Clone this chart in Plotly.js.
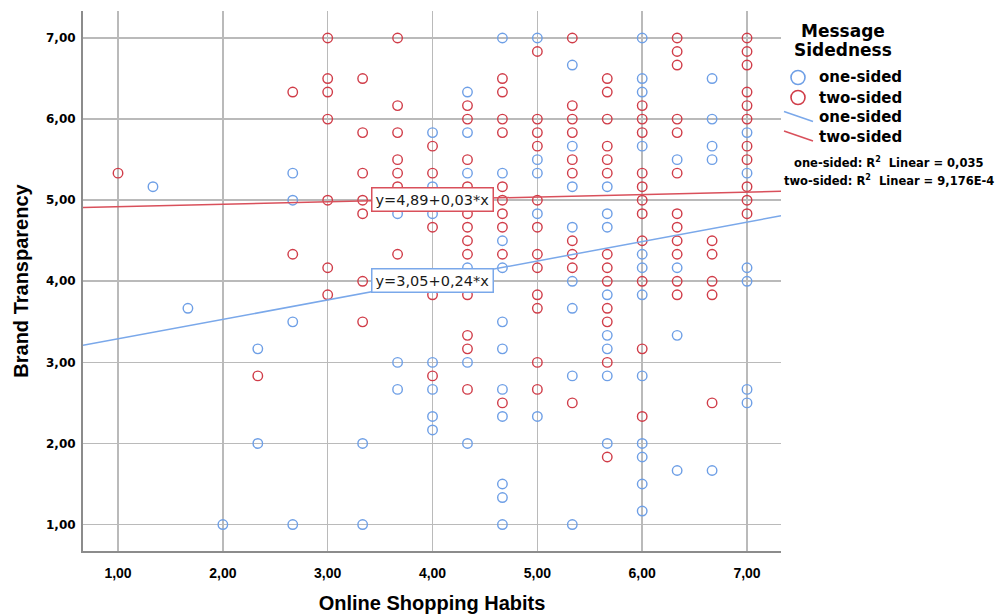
<!DOCTYPE html>
<html>
<head>
<meta charset="utf-8">
<script src="https://cdn.plot.ly/plotly-3.0.1.min.js"></script>
<style>
  html, body { margin: 0; padding: 0; background: #ffffff; }
  #chart { width: 1002px; height: 616px; }
</style>
</head>
<body>
<div id="chart"></div>
<script>
// Online Shopping Habits (x) vs Brand Transparency (y), grouped by message sidedness.
// Scale values are means of several items, so they fall on steps of 1/3 (x) and 1/6 (y).
const T = 1 / 3, S = 1 / 6;

// one-sided group: x column -> y values
const oneSidedX = [
  1+T,
  1+2*T,
  2,
  2+T, 2+T,
  2+2*T, 2+2*T, 2+2*T, 2+2*T,
  3+T, 3+T,
  3+2*T, 3+2*T, 3+2*T,
  4, 4, 4, 4, 4, 4, 4,
  4+T, 4+T, 4+T, 4+T, 4+T, 4+T,
  4+2*T, 4+2*T, 4+2*T, 4+2*T, 4+2*T, 4+2*T, 4+2*T, 4+2*T, 4+2*T, 4+2*T, 4+2*T,
  5, 5, 5, 5, 5,
  5+T, 5+T, 5+T, 5+T, 5+T, 5+T, 5+T, 5+T,
  5+2*T, 5+2*T, 5+2*T, 5+2*T, 5+2*T, 5+2*T, 5+2*T, 5+2*T,
  6, 6, 6, 6, 6, 6, 6, 6, 6, 6, 6, 6,
  6+T, 6+T, 6+T, 6+T,
  6+2*T, 6+2*T, 6+2*T, 6+2*T, 6+2*T,
  7, 7, 7, 7, 7, 7
];
const oneSidedY = [
  5+S,
  3+4*S,
  1,
  3+S, 2,
  5+2*S, 5, 3.5, 1,
  2, 1,
  4+5*S, 3, 2+4*S,
  5+5*S, 5+S, 4+5*S, 3, 2+4*S, 2+2*S, 2+S,
  6+2*S, 5+5*S, 5+2*S, 4+S, 3, 2,
  7, 5+2*S, 4.5, 4+S, 3.5, 3+S, 2+4*S, 2+2*S, 1.5, 1+2*S, 1,
  7, 5.5, 5+2*S, 4+5*S, 2+2*S,
  6+4*S, 5+4*S, 5+S, 4+4*S, 4, 3+4*S, 2+5*S, 1,
  5+S, 4+5*S, 4+4*S, 3+5*S, 3+2*S, 3+S, 2+5*S, 2,
  7, 6.5, 6+2*S, 5+4*S, 4+2*S, 4+S, 3+5*S, 2+5*S, 2, 1+5*S, 1.5, 1+S,
  5.5, 4+S, 3+2*S, 1+4*S,
  6.5, 6, 5+4*S, 5.5, 1+4*S,
  5+5*S, 5+2*S, 4+S, 4, 2+4*S, 2.5
];

// two-sided group: x column -> y values
const twoSidedX = [
  1,
  2+T,
  2+2*T, 2+2*T,
  3, 3, 3, 3, 3, 3, 3,
  3+T, 3+T, 3+T, 3+T, 3+T, 3+T, 3+T,
  3+2*T, 3+2*T, 3+2*T, 3+2*T, 3+2*T, 3+2*T, 3+2*T,
  4, 4, 4, 4, 4,
  4+T, 4+T, 4+T, 4+T, 4+T, 4+T, 4+T, 4+T, 4+T, 4+T, 4+T, 4+T,
  4+2*T, 4+2*T, 4+2*T, 4+2*T, 4+2*T, 4+2*T, 4+2*T, 4+2*T, 4+2*T, 4+2*T,
  5, 5, 5, 5, 5, 5, 5, 5, 5, 5, 5, 5,
  5+T, 5+T, 5+T, 5+T, 5+T, 5+T, 5+T, 5+T, 5+T, 5+T,
  5+2*T, 5+2*T, 5+2*T, 5+2*T, 5+2*T, 5+2*T, 5+2*T, 5+2*T, 5+2*T, 5+2*T, 5+2*T, 5+2*T, 5+2*T,
  6, 6, 6, 6, 6, 6, 6, 6, 6, 6, 6,
  6+T, 6+T, 6+T, 6+T, 6+T, 6+T, 6+T, 6+T, 6+T, 6+T, 6+T, 6+T,
  6+2*T, 6+2*T, 6+2*T, 6+2*T, 6+2*T,
  7, 7, 7, 7, 7, 7, 7, 7, 7, 7, 7
];
const twoSidedY = [
  5+2*S,
  2+5*S,
  6+2*S, 4+2*S,
  7, 6.5, 6+2*S, 6, 5, 4+S, 3+5*S,
  6.5, 5+5*S, 5+2*S, 5, 4+5*S, 4, 3.5,
  7, 6+S, 5+5*S, 5.5, 5+2*S, 5+S, 4+2*S,
  5+4*S, 5+2*S, 4+4*S, 3+5*S, 2+5*S,
  6+S, 6, 5.5, 5+S, 4+5*S, 4+4*S, 4.5, 4+2*S, 3+5*S, 3+2*S, 3+S, 2+4*S,
  6.5, 6+2*S, 6, 5+5*S, 5+S, 5, 4+5*S, 4+4*S, 4+2*S, 2.5,
  6+5*S, 6, 5+5*S, 5+4*S, 5, 4+4*S, 4+2*S, 4+S, 3+5*S, 3+4*S, 3, 2+4*S,
  7, 6+S, 6, 5+5*S, 5.5, 5+2*S, 4.5, 4+2*S, 4+S, 2.5,
  6.5, 6+2*S, 6, 5+4*S, 5.5, 5+2*S, 4+2*S, 4+S, 4, 3+4*S, 3.5, 3, 1+5*S,
  6+S, 6, 5+5*S, 5+2*S, 5+S, 5, 4+5*S, 4.5, 4, 3+S, 2+2*S,
  7, 6+5*S, 6+4*S, 6, 5+5*S, 5+2*S, 4+5*S, 4+4*S, 4.5, 4+2*S, 4, 3+5*S,
  4.5, 4+2*S, 4, 3+5*S, 2.5,
  7, 6+5*S, 6+4*S, 6+2*S, 6+S, 6, 5+4*S, 5.5, 5+S, 5, 4+5*S
];

// Linear fit coefficients per group (intercept, slope) and R² values
const fitOne = { a: 3.05, b: 0.24, label: 'y=3,05+0,24*x', r2: '0,035' };
const fitTwo = { a: 4.89, b: 0.03, label: 'y=4,89+0,03*x', r2: '9,176E-4' };
const groupNames = ['one-sided', 'two-sided'];

const xRange = [0.666, 7.324];
const yRange = [0.674, 7.333];
const tickValues = [1, 2, 3, 4, 5, 6, 7];

const BLUE = '#6e9fe6';
const RED = '#d03c48';
const BLUE_LINE = '#7aa8ea';
const RED_LINE = '#d9505b';

function fitLine(f) {
  return { x: xRange.slice(), y: xRange.map(v => f.a + f.b * v) };
}
const lineOne = fitLine(fitOne);
const lineTwo = fitLine(fitTwo);
// equation boxes sit on each fitted line at x = 4
const labelX = 4;

const traces = [
  {
    type: 'scatter', mode: 'markers', name: groupNames[0],
    x: oneSidedX, y: oneSidedY,
    marker: { symbol: 'circle-open', size: 9.5, color: BLUE, line: { width: 1.4, color: BLUE } },
    showlegend: false, cliponaxis: false
  },
  {
    type: 'scatter', mode: 'markers', name: groupNames[1],
    x: twoSidedX, y: twoSidedY,
    marker: { symbol: 'circle-open', size: 9.5, color: RED, line: { width: 1.4, color: RED } },
    showlegend: false, cliponaxis: false
  },
  {
    type: 'scatter', mode: 'lines', name: groupNames[0],
    x: lineOne.x, y: lineOne.y,
    line: { color: BLUE_LINE, width: 1.5 }, showlegend: false
  },
  {
    type: 'scatter', mode: 'lines', name: groupNames[1],
    x: lineTwo.x, y: lineTwo.y,
    line: { color: RED_LINE, width: 1.5 }, showlegend: false
  }
];

// Legend panel drawn in paper space to the right of the plot
const L = 83, W = 698, TOP = 11, H = 540;
const px = v => (v - L) / W;
const py = v => (TOP + H - v) / H;

const legendFont = { family: 'DejaVu Sans', size: 15, color: '#000000', weight: 'bold' };
const titleFont = { family: 'DejaVu Sans', size: 17, color: '#000', weight: 'bold' };
const r2Font = { family: 'DejaVu Sans', size: 11.5, color: '#000', weight: 'bold' };
const boxFont = { family: 'DejaVu Sans', size: 14.5, color: '#1a1a1a' };

const annotations = [
  { xref: 'paper', yref: 'paper', x: px(843), y: py(31), text: 'Message', showarrow: false,
    xanchor: 'center', yanchor: 'middle', font: titleFont },
  { xref: 'paper', yref: 'paper', x: px(843), y: py(50), text: 'Sidedness', showarrow: false,
    xanchor: 'center', yanchor: 'middle', font: titleFont },
  { xref: 'paper', yref: 'paper', x: px(817), y: py(77.5), text: groupNames[0], showarrow: false,
    xanchor: 'left', yanchor: 'middle', font: legendFont },
  { xref: 'paper', yref: 'paper', x: px(817), y: py(97.5), text: groupNames[1], showarrow: false,
    xanchor: 'left', yanchor: 'middle', font: legendFont },
  { xref: 'paper', yref: 'paper', x: px(817), y: py(117), text: groupNames[0], showarrow: false,
    xanchor: 'left', yanchor: 'middle', font: legendFont },
  { xref: 'paper', yref: 'paper', x: px(817), y: py(136.5), text: groupNames[1], showarrow: false,
    xanchor: 'left', yanchor: 'middle', font: legendFont },
  { xref: 'paper', yref: 'paper', x: px(889), y: py(163), showarrow: false,
    text: groupNames[0] + ': R<sup>2</sup>  Linear = ' + fitOne.r2,
    xanchor: 'center', yanchor: 'middle', font: r2Font },
  { xref: 'paper', yref: 'paper', x: px(889), y: py(180), showarrow: false,
    text: groupNames[1] + ': R<sup>2</sup>  Linear = ' + fitTwo.r2,
    xanchor: 'center', yanchor: 'middle', font: r2Font },
  // fitted-line equation boxes
  { xref: 'x', yref: 'y', x: labelX, y: fitTwo.a + fitTwo.b * labelX, text: fitTwo.label, showarrow: false,
    xanchor: 'center', yanchor: 'middle', bgcolor: '#ffffff', bordercolor: RED_LINE, borderwidth: 1.5, borderpad: 3,
    font: boxFont },
  { xref: 'x', yref: 'y', x: labelX, y: fitOne.a + fitOne.b * labelX, text: fitOne.label, showarrow: false,
    xanchor: 'center', yanchor: 'middle', bgcolor: '#ffffff', bordercolor: BLUE_LINE, borderwidth: 1.5, borderpad: 3,
    font: boxFont }
];

const circleShape = (cx, cy, color) => ({
  type: 'circle', xref: 'paper', yref: 'paper',
  xsizemode: 'pixel', ysizemode: 'pixel', xanchor: px(cx), yanchor: py(cy),
  x0: -7, x1: 7, y0: -7, y1: 7,
  line: { color: color, width: 1.6 }, fillcolor: 'rgba(0,0,0,0)'
});
const slashShape = (y0, color) => ({
  type: 'line', xref: 'paper', yref: 'paper',
  x0: px(784), x1: px(813), y0: py(y0), y1: py(y0 + 10),
  line: { color: color, width: 1.5 }
});
const shapes = [
  circleShape(798, 77.5, BLUE),
  circleShape(798, 97.5, RED),
  slashShape(111.5, BLUE_LINE),
  slashShape(131, RED_LINE)
];

const layout = {
  width: 1002, height: 616,
  margin: { l: L, r: 1002 - L - W, t: TOP, b: 616 - TOP - H, pad: 0 },
  paper_bgcolor: '#ffffff', plot_bgcolor: '#ffffff',
  separators: ',.',
  showlegend: false,
  xaxis: {
    range: xRange, tickvals: tickValues, tickformat: '.2f',
    showgrid: true, gridcolor: '#bababa', gridwidth: 1.6,
    zeroline: false, showline: true, linecolor: '#8c8c8c', linewidth: 2,
    ticks: '', ticklabelstandoff: 8,
    tickfont: { family: 'Liberation Sans', size: 14, color: '#000', weight: 'bold' },
    title: { text: 'Online Shopping Habits', standoff: 16,
      font: { family: 'Liberation Sans', size: 20, color: '#000', weight: 'bold' } },
    automargin: false
  },
  yaxis: {
    range: yRange, tickvals: tickValues, tickformat: '.2f',
    showgrid: true, gridcolor: '#bababa', gridwidth: 1.6,
    zeroline: false, showline: true, linecolor: '#8c8c8c', linewidth: 2,
    ticks: '', ticklabelstandoff: 3,
    tickfont: { family: 'DejaVu Sans', size: 12, color: '#000', weight: 'bold' },
    title: { text: 'Brand Transparency', standoff: 12,
      font: { family: 'Liberation Sans', size: 20, color: '#000', weight: 'bold' } },
    automargin: false
  },
  annotations: annotations,
  shapes: shapes
};

Plotly.newPlot('chart', traces, layout, { displayModeBar: false, staticPlot: true });
</script>
</body>
</html>
